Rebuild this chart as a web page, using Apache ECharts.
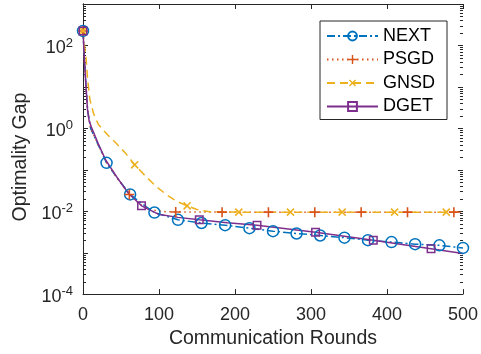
<!DOCTYPE html>
<html>
<head>
<meta charset="utf-8">
<script src="https://cdn.jsdelivr.net/npm/echarts@6/dist/echarts.min.js"></script>
<style>html,body{margin:0;padding:0;background:#fff}#c{width:481px;height:354px}</style>
</head>
<body>
<div id="c"></div>
<script>
// ---- data ----
const seriesNames = ['NEXT', 'PSGD', 'GNSD', 'DGET'];
const xTickLabels = [0, 100, 200, 300, 400, 500];
const yTickExponents = [-4, -2, 0, 2];

const nextX = [0, 2, 4, 6, 10, 20, 31, 45, 62, 78, 94, 125, 156, 187, 219, 250, 281, 312, 344, 375, 406, 437, 469, 500];
const nextY = [224, 40, 10, 2.8, 1.0, 0.40, 0.147, 0.063, 0.0254, 0.0150, 0.0093, 0.0062, 0.0052, 0.0046, 0.0039, 0.0033, 0.0029, 0.0026, 0.0023, 0.0020, 0.0018, 0.0016, 0.0015, 0.0013];
const nextMarkers = [0, 31, 62, 94, 125, 156, 187, 219, 250, 281, 312, 344, 375, 406, 437, 469, 500];

const psgdX = [0, 2, 4, 6, 10, 20, 31, 45, 61, 75, 90, 105, 122, 183, 244, 305, 366, 427, 488, 500];
const psgdY = [224, 40, 10, 2.8, 1.0, 0.40, 0.15, 0.063, 0.0254, 0.0145, 0.0108, 0.0098, 0.0096, 0.0095, 0.0095, 0.0095, 0.0095, 0.0095, 0.0095, 0.0095];
const psgdMarkers = [0, 61, 122, 183, 244, 305, 366, 427, 488];

const gnsdX = [0, 2, 4, 6, 9, 14, 20, 27, 35, 44, 56, 68, 82, 96, 110, 123, 137, 150, 165, 205, 273, 341, 410, 478, 500];
const gnsdY = [224, 100, 50, 15.8, 5.0, 2.24, 1.26, 0.89, 0.62, 0.43, 0.25, 0.132, 0.071, 0.040, 0.025, 0.0174, 0.0135, 0.011, 0.0098, 0.0095, 0.0095, 0.0095, 0.0095, 0.0095, 0.0095];
const gnsdMarkers = [0, 68, 137, 205, 273, 341, 410, 478];

const dgetX = [0, 1, 2, 4, 6, 8, 11, 20, 30, 44, 59, 77, 99, 125, 153, 190, 229, 306, 382, 458, 500];
const dgetY = [224, 100, 40, 10, 2.7, 1.55, 1.07, 0.43, 0.17, 0.069, 0.028, 0.0135, 0.0085, 0.0071, 0.0062, 0.0053, 0.0046, 0.0031, 0.0020, 0.00124, 0.00095];
const dgetMarkers = [0, 77, 153, 229, 306, 382, 458];

// ---- styling ----
const colors = ['#0072BD', '#D95319', '#EDB120', '#7E2F8E'];
const FONT = '"Liberation Sans", Arial, Helvetica, sans-serif';
const TXT = '#262626';
const PLUS = 'path://M4.2,0H5.8V4.2H10V5.8H5.8V10H4.2V5.8H0V4.2H4.2Z';

function build(xs, ys, marks) {
  return xs.map((x, i) => marks.indexOf(x) >= 0 ? [x, ys[i]] : { value: [x, ys[i]], symbol: 'none' });
}

const chart = echarts.init(document.getElementById('c'), null, { renderer: 'canvas' });

const axisLineStyle = { show: true, lineStyle: { color: TXT, width: 1 } };

const option = {
  animation: false,
  backgroundColor: '#fff',
  textStyle: { fontFamily: FONT },
  grid: { left: 83, right: 18, top: 4, bottom: 58, containLabel: false },
  legend: {
    orient: 'vertical', left: 320, top: 21,
    backgroundColor: '#fff', borderColor: TXT, borderWidth: 1,
    padding: [6, 12, 4, 6], itemWidth: 51, itemHeight: 11, itemGap: 5.5,
    textStyle: { fontSize: 18, color: '#000', fontFamily: FONT },
    data: seriesNames
  },
  xAxis: [{
    type: 'value', min: 0, max: 500, interval: 100,
    name: 'Communication Rounds', nameLocation: 'middle', nameGap: 34,
    nameTextStyle: { fontSize: 19.5, color: TXT, fontFamily: FONT },
    axisLine: axisLineStyle, axisTick: { inside: true, length: 5, lineStyle: { color: TXT } },
    axisLabel: { fontSize: 18, color: TXT, margin: 12, fontFamily: FONT },
    splitLine: { show: false }
  }, {
    type: 'value', min: 0, max: 500, interval: 100, position: 'top',
    axisLine: axisLineStyle, axisTick: { inside: true, length: 5, lineStyle: { color: TXT } },
    axisLabel: { show: false }, splitLine: { show: false }
  }],
  yAxis: [{
    type: 'log', logBase: 10, min: 1e-4, max: 1e3, interval: 1,
    name: 'Optimality Gap', nameLocation: 'middle', nameGap: 51,
    nameTextStyle: { fontSize: 19.5, color: TXT, fontFamily: FONT, padding: [0, 16, 0, 0] },
    axisLine: axisLineStyle, axisTick: { show: false },
    axisLabel: {
      margin: 10, color: TXT, fontFamily: FONT,
      formatter: function (v) {
        const e = Math.round(Math.log10(v));
        if (yTickExponents.indexOf(e) < 0) return '';
        return '{b|10}{s|' + e + '}';
      },
      rich: {
        b: { fontSize: 18, lineHeight: 18, color: TXT, fontFamily: FONT, padding: [5, 0, 0, 0] },
        s: { fontSize: 13, lineHeight: 13, color: TXT, fontFamily: FONT, verticalAlign: 'top' }
      }
    },
    splitLine: { show: false }
  }, {
    type: 'log', logBase: 10, min: 1e-4, max: 1e3, interval: 1, position: 'right',
    axisLine: axisLineStyle, axisTick: { show: false }, axisLabel: { show: false }, splitLine: { show: false }
  }],
  series: [
    {
      name: 'NEXT', type: 'line', data: build(nextX, nextY, nextMarkers),
      symbol: 'circle', symbolSize: 11, showAllSymbol: true,
      itemStyle: { color: 'rgba(255,255,255,0)', borderColor: colors[0], borderWidth: 1.5 },
      lineStyle: { color: colors[0], width: 1.5, type: [8, 3, 2, 3] }
    },
    {
      name: 'PSGD', type: 'line', data: build(psgdX, psgdY, psgdMarkers),
      symbol: PLUS, symbolSize: 10, showAllSymbol: true,
      itemStyle: { color: colors[1], borderWidth: 0 },
      lineStyle: { color: colors[1], width: 1.5, type: [1.5, 3.5] }
    },
    {
      name: 'GNSD', type: 'line', data: build(gnsdX, gnsdY, gnsdMarkers),
      symbol: PLUS, symbolSize: 10, symbolRotate: 45, showAllSymbol: true,
      itemStyle: { color: colors[2], borderWidth: 0 },
      lineStyle: { color: colors[2], width: 1.5, type: [8, 5] }
    },
    {
      name: 'DGET', type: 'line', data: build(dgetX, dgetY, dgetMarkers),
      symbol: 'rect', symbolSize: 7.5, showAllSymbol: true,
      itemStyle: { color: 'rgba(255,255,255,0)', borderColor: colors[3], borderWidth: 1.5 },
      lineStyle: { color: colors[3], width: 1.5, type: 'solid' }
    }
  ]
};
chart.setOption(option);

// log-axis ticks (major at decades, minor at 2..9) on both sides, placed via the axis scale
function addTicks() {
  const xl = chart.convertToPixel({ xAxisIndex: 0 }, 0);
  const xr = chart.convertToPixel({ xAxisIndex: 0 }, 500);
  const els = [];
  for (let e = -4; e <= 3; e++) {
    for (let k = 1; k <= 9; k++) {
      const v = k * Math.pow(10, e);
      if (v > 1000.0001) break;
      const y = Math.round(chart.convertToPixel({ yAxisIndex: 0 }, v)) + 0.5;
      const len = k === 1 ? 5 : 3;
      els.push({ type: 'line', shape: { x1: xl, y1: y, x2: xl + len, y2: y }, style: { stroke: TXT, lineWidth: 1 }, silent: true });
      els.push({ type: 'line', shape: { x1: xr - len, y1: y, x2: xr, y2: y }, style: { stroke: TXT, lineWidth: 1 }, silent: true });
    }
  }
  chart.setOption({ graphic: els });
}
addTicks();
</script>
</body>
</html>
